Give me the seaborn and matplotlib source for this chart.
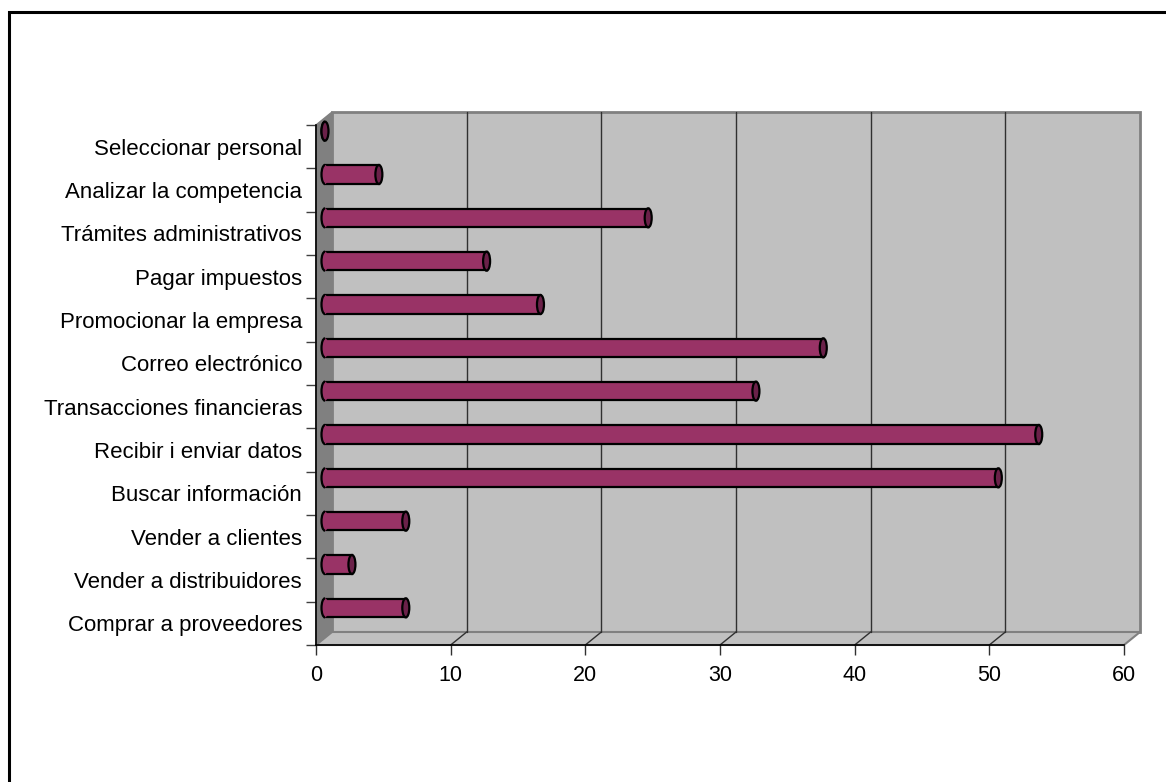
import matplotlib
matplotlib.use("Agg")
import matplotlib.pyplot as plt
import seaborn as sns
import pandas as pd
import numpy as np
from matplotlib.patches import Rectangle, Polygon, Ellipse, Arc
from matplotlib.transforms import offset_copy

# --- datos (de arriba a abajo, como en el gráfico) ---
categorias = [
    "Seleccionar personal",
    "Analizar la competencia",
    "Trámites administrativos",
    "Pagar impuestos",
    "Promocionar la empresa",
    "Correo electrónico",
    "Transacciones financieras",
    "Recibir i enviar datos",
    "Buscar información",
    "Vender a clientes",
    "Vender a distribuidores",
    "Comprar a proveedores",
]
valores = [0, 4, 24, 12, 16, 37, 32, 53, 50, 6, 2, 6]
x_ticks = [0, 10, 20, 30, 40, 50, 60]

df = pd.DataFrame({"uso": categorias, "valor": valores})

sns.set_theme(style="white")
plt.rcParams["font.family"] = ["Liberation Sans", "DejaVu Sans"]
plt.rcParams["text.color"] = "black"

W, H = 1166, 782
fig = plt.figure(figsize=(W / 100, H / 100), dpi=100)
fig.patch.set_facecolor("white")

# marco exterior
fig.patches.append(Rectangle((8.7 / W, -20 / H), 1.2, (H - 12 + 20) / H,
                             transform=fig.transFigure, fill=False,
                             edgecolor="black", linewidth=2.2))

left, right, top, bottom = 316, 1124, 125, 645
ax = fig.add_axes([left / W, 1 - bottom / H, (right - left) / W, (bottom - top) / H])
ax.set_facecolor("none")

n = len(categorias)
xmax = 60
# profundidad 3D en unidades de datos
px_x = (right - left) / xmax
px_y = (bottom - top) / n
ddx = 16 / px_x
ddy = -13 / px_y   # eje y invertido

y_lo, y_hi = n - 0.5, -0.5   # abajo, arriba

# pared del fondo
ax.add_patch(Rectangle((ddx, y_hi + ddy), xmax, n, facecolor="#C0C0C0",
                       edgecolor="#808080", linewidth=2, zorder=0, clip_on=False))
# pared izquierda
ax.add_patch(Polygon([(0, y_lo), (0, y_hi), (ddx, y_hi + ddy), (ddx, y_lo + ddy)],
                     closed=True, facecolor="#808080", edgecolor="#808080",
                     linewidth=1, zorder=0.5, clip_on=False))
# suelo
ax.add_patch(Polygon([(0, y_lo), (xmax, y_lo), (xmax + ddx, y_lo + ddy), (ddx, y_lo + ddy)],
                     closed=True, facecolor="#C0C0C0", edgecolor="#808080",
                     linewidth=1.5, zorder=0.5, clip_on=False))
# rejilla
for t in x_ticks[1:-1]:
    ax.plot([t + ddx, t + ddx], [y_lo + ddy, y_hi + ddy], color="#303030",
            linewidth=1, zorder=1, clip_on=False)
    ax.plot([t, t + ddx], [y_lo, y_lo + ddy], color="#303030",
            linewidth=1, zorder=1, clip_on=False)

# barras
sns.barplot(data=df, x="valor", y="uso", order=categorias, orient="h",
            color="#993366", saturation=1, width=0.42, edgecolor="black",
            linewidth=1.6, ax=ax, zorder=3)

bar_tr = offset_copy(ax.transData, fig=fig, x=9, y=15.5, units="dots")
for p in ax.patches:
    if isinstance(p, Rectangle) and p.get_zorder() == 3:
        p.set_transform(bar_tr)
        p.set_clip_on(False)

cap_w = 7 / px_x
cap_h = 0.44
for i, v in enumerate(valores):
    # inicio redondeado
    ax.add_patch(Ellipse((0, i), cap_w, cap_h, facecolor="#993366", edgecolor="none",
                         transform=bar_tr, zorder=3.5, clip_on=False))
    ax.add_patch(Arc((0, i), cap_w, cap_h, theta1=90, theta2=270, edgecolor="black",
                     linewidth=1.6, transform=bar_tr, zorder=3.6, clip_on=False))
    # tapa final
    ax.add_patch(Ellipse((v, i), cap_w, cap_h, facecolor="#6B2149", edgecolor="black",
                         linewidth=1.6, transform=bar_tr, zorder=4, clip_on=False))

ax.set_xlim(0, xmax)
ax.set_ylim(y_lo, y_hi)
ax.set_xlabel("")
ax.set_ylabel("")

for s in ["top", "right"]:
    ax.spines[s].set_visible(False)
for s in ["left", "bottom"]:
    ax.spines[s].set_visible(True)
    ax.spines[s].set_color("black")
    ax.spines[s].set_linewidth(1.2)
    ax.spines[s].set_zorder(2)

ax.set_xticks(x_ticks)
ax.set_xticklabels([str(t) for t in x_ticks], fontsize=15.5)
ax.tick_params(axis="x", direction="out", length=7.2, width=1, color="#303030",
               pad=7.5, bottom=True, labelcolor="black")

ax.set_yticks(range(n))
ax.set_yticklabels(categorias, fontsize=16)
ax.set_yticks(np.arange(-0.5, n, 1), minor=True)
ax.tick_params(axis="y", which="major", length=0, pad=10, labelcolor="black")
ax.tick_params(axis="y", which="minor", direction="out", length=7.2, width=1,
               color="#404040", left=True)

fig.savefig("out.png", dpi=100)
